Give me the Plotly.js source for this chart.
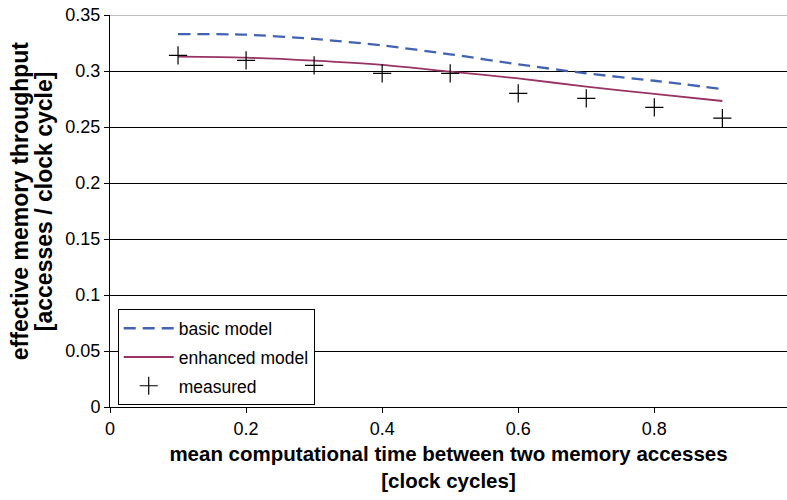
<!DOCTYPE html>
<html>
<head>
<meta charset="utf-8">
<script src="https://cdn.plot.ly/plotly-3.0.1.min.js"></script>
<style>html,body{margin:0;padding:0;background:#fff;}#chart{width:787px;height:500px;}</style>
</head>
<body>
<div id="chart"></div>
<script>
var xValues = [0.1, 0.2, 0.3, 0.4, 0.5, 0.6, 0.7, 0.8, 0.9];
var basicModel = [0.3330, 0.3324, 0.3286, 0.3228, 0.3149, 0.3060, 0.2979, 0.2913, 0.2839];
var enhancedModel = [0.3128, 0.3119, 0.3092, 0.3054, 0.2994, 0.2934, 0.2860, 0.2795, 0.2732];
var measured = [0.3140, 0.3095, 0.3051, 0.2979, 0.2979, 0.2801, 0.2756, 0.2676, 0.2580];
var seriesNames = ["basic model", "enhanced model", "measured"];
var yTicks = [0, 0.05, 0.1, 0.15, 0.2, 0.25, 0.3, 0.35];
var yTickLabels = ["0", "0.05", "0.1", "0.15", "0.2", "0.25", "0.3", "0.35"];
var xTicks = [0, 0.2, 0.4, 0.6, 0.8];
var xTickLabels = ["0", "0.2", "0.4", "0.6", "0.8"];
var xTitleLines = ["mean computational time between two memory accesses", "[clock cycles]"];
var yTitleLines = ["effective memory throughput", "[accesses / clock cycle]"];

var font = "Liberation Sans, Arial, sans-serif";

var traces = [
  {x: xValues, y: basicModel, name: seriesNames[0], mode: "lines", legendgroup: "a",
   line: {color: "#4262B4", width: 2.3, dash: "12px,7px", shape: "spline", smoothing: 0.8}},
  {x: xValues, y: enhancedModel, name: seriesNames[1], mode: "lines", legendgroup: "b",
   line: {color: "#993366", width: 1.8, shape: "spline", smoothing: 0.8}},
  {x: xValues, y: measured, name: seriesNames[2], mode: "markers", legendgroup: "c",
   marker: {symbol: "cross-thin", size: 13, color: "#000", line: {color: "#000", width: 1.2}}}
];

var layout = {
  width: 787, height: 500,
  margin: {l: 110, r: 0, t: 15, b: 93},
  paper_bgcolor: "#fff", plot_bgcolor: "#fff",
  font: {family: font, size: 17, color: "#000"},
  showlegend: true,
  legend: {x: 0.0114, y: 0.249, xanchor: "left", yanchor: "top",
    bordercolor: "#000", borderwidth: 1, bgcolor: "#fff",
    font: {family: font, size: 17.5, color: "#000"},
    traceorder: "grouped", tracegroupgap: 3, itemwidth: 50},
  xaxis: {
    range: [0, 0.995], tickvals: xTicks, ticktext: xTickLabels,
    showgrid: false, zeroline: false,
    showline: true, linecolor: "#000", linewidth: 1, mirror: false,
    ticks: "outside", ticklen: 5, tickcolor: "#000",
    tickfont: {family: font, size: 18, color: "#000"},
    title: {text: "<b>" + xTitleLines[0] + "<br>" + xTitleLines[1] + "</b>",
      font: {family: font, size: 20.5, color: "#000"}, standoff: 9}
  },
  yaxis: {
    range: [0, 0.35], tickvals: yTicks, ticktext: yTickLabels,
    showgrid: true, gridcolor: "#000", gridwidth: 1, zeroline: false,
    showline: true, linecolor: "#000", linewidth: 1,
    ticks: "outside", ticklen: 5, tickcolor: "#000",
    tickfont: {family: font, size: 18, color: "#000"}
  },
  annotations: [
    {text: "<b>" + yTitleLines[0] + "</b>", xref: "paper", yref: "paper",
     x: (20 - 110) / 677, y: 0.525, xanchor: "center", yanchor: "middle",
     textangle: -90, showarrow: false, font: {family: font, size: 23, color: "#000"}},
    {text: "<b>" + yTitleLines[1] + "</b>", xref: "paper", yref: "paper",
     x: (44 - 110) / 677, y: 0.525, xanchor: "center", yanchor: "middle",
     textangle: -90, showarrow: false, font: {family: font, size: 23, color: "#000"}}
  ],
  shapes: [{type: "line", xref: "paper", yref: "y", x0: 0, x1: 1, y0: 0.35, y1: 0.35,
    line: {color: "#808080", width: 1}}]
};

Plotly.newPlot("chart", traces, layout, {displayModeBar: false, staticPlot: true});
</script>
</body>
</html>
